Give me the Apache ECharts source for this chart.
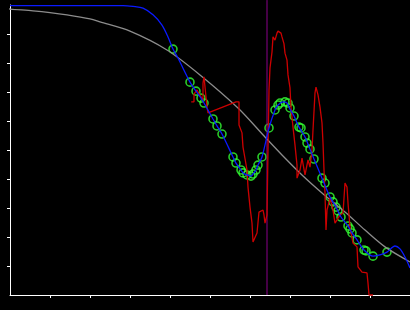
<!DOCTYPE html>
<html>
<head>
<meta charset="utf-8">
<script src="https://cdn.jsdelivr.net/npm/echarts@6.0.0/dist/echarts.min.js"></script>
<style>
  html, body { margin: 0; padding: 0; background: #000; }
  #chart { width: 410px; height: 310px; }
</style>
</head>
<body>
<div id="chart"></div>
<script>
// prior curve (grey)
var priorCurve = [
  [-0.25, 9.9], [0, 9.86], [0.575, 9.80], [1, 9.74], [1.425, 9.66], [2, 9.52],
  [2.25, 9.42], [3, 9.10], [3.925, 8.45], [4.75, 7.59], [5.7, 6.45], [6.375, 5.45],
  [6.8, 4.83], [7.3, 4.14], [7.8, 3.52], [8.375, 2.86], [8.875, 2.24], [9.375, 1.66],
  [10, 1.14]
]

// fitted curve (blue)
var fitCurve = [
  [0, 9.98], [2.825, 9.98], [3.075, 9.95], [3.325, 9.89], [3.575, 9.66], [3.8, 9.31],
  [3.95, 8.90], [4.075, 8.48], [4.2, 8.17], [4.5, 7.34], [4.65, 7.03], [4.775, 6.79],
  [4.85, 6.62], [5.075, 6.07], [5.175, 5.83], [5.3, 5.55], [5.575, 4.76], [5.65, 4.55],
  [5.775, 4.31], [5.825, 4.21], [5.925, 4.14], [6.025, 4.10], [6.075, 4.17], [6.15, 4.31],
  [6.2, 4.48], [6.3, 4.76], [6.475, 5.76], [6.625, 6.38], [6.7, 6.55], [6.825, 6.66],
  [6.925, 6.62], [7.0, 6.41], [7.1, 6.17], [7.225, 5.79], [7.375, 5.45], [7.5, 5.03],
  [7.6, 4.69], [7.8, 4.03], [8.0, 3.38], [8.15, 3.03], [8.275, 2.69], [8.45, 2.38],
  [8.55, 2.14], [8.675, 1.90], [8.85, 1.55], [9.075, 1.34], [9.25, 1.38], [9.425, 1.48],
  [9.625, 1.69], [9.75, 1.59], [9.875, 1.31], [10, 0.93]
]

// measured signal (red)
var signal = [
  [4.53, 6.66], [4.6, 6.66], [4.6, 6.93], [4.675, 7.07], [4.825, 6.72], [4.825, 7.31],
  [4.85, 7.52], [4.9, 7.52], [4.925, 6.48], [4.95, 6.28], [5.65, 6.66], [5.725, 6.66],
  [5.725, 5.86], [5.8, 5.59], [5.825, 5.10], [5.925, 4.31], [5.95, 3.72], [6.0, 3.03],
  [6.05, 2.48], [6.075, 1.83], [6.125, 1.79], [6.175, 2.14], [6.225, 2.86], [6.325, 2.93],
  [6.35, 2.76], [6.375, 2.48], [6.425, 2.76], [6.45, 5.00], [6.475, 7.07], [6.5, 7.83],
  [6.55, 8.38], [6.575, 8.90], [6.625, 8.79], [6.675, 9.03], [6.7, 9.10], [6.775, 9.03],
  [6.8, 8.90], [6.85, 8.66], [6.875, 8.34], [6.925, 8.10], [6.95, 7.59], [7.0, 7.14],
  [7.025, 6.45], [7.075, 5.79], [7.125, 5.17], [7.175, 4.48], [7.175, 4.03], [7.25, 4.31],
  [7.3, 4.72], [7.35, 4.72], [7.375, 4.14], [7.45, 4.66], [7.5, 4.41], [7.55, 5.00],
  [7.575, 5.69], [7.625, 6.97], [7.65, 7.17], [7.7, 6.90], [7.75, 6.48], [7.8, 5.93],
  [7.825, 5.24], [7.85, 4.31], [7.875, 3.52], [7.9, 2.24], [7.925, 2.93], [8.0, 3.34],
  [8.075, 2.93], [8.125, 2.48], [8.175, 2.59], [8.25, 2.76], [8.325, 2.83], [8.375, 3.86],
  [8.425, 3.72], [8.45, 3.17], [8.5, 2.34], [8.575, 1.79], [8.675, 1.66], [8.7, 0.97],
  [8.8, 0.79], [8.925, 0.76], [8.95, 0.41], [8.975, 0], [9.075, 0]
]

// sample points (green circles)
var samples = [
  [4.075, 8.48], [4.5, 7.34], [4.65, 7.03], [4.775, 6.79], [4.85, 6.62], [5.075, 6.07],
  [5.175, 5.83], [5.3, 5.55], [5.575, 4.76], [5.65, 4.55], [5.775, 4.31], [5.825, 4.21],
  [5.925, 4.14], [6.025, 4.10], [6.075, 4.17], [6.15, 4.31], [6.2, 4.48], [6.3, 4.76],
  [6.475, 5.76], [6.625, 6.38], [6.7, 6.55], [6.75, 6.62], [6.875, 6.66], [6.95, 6.62],
  [7.0, 6.45], [7.1, 6.17], [7.225, 5.79], [7.275, 5.76], [7.375, 5.45], [7.425, 5.24],
  [7.5, 5.03], [7.6, 4.69], [7.8, 4.03], [7.875, 3.86], [8.0, 3.38], [8.075, 3.21],
  [8.15, 3.03], [8.2, 2.90], [8.275, 2.69], [8.45, 2.38], [8.5, 2.28], [8.55, 2.14],
  [8.675, 1.90], [8.85, 1.55], [8.9, 1.52], [9.075, 1.34], [9.425, 1.48]
]

// vertical marker
var markerX = 6.425
var markerSpan = [0, 10.17]

var tickValues = [1, 2, 3, 4, 5, 6, 7, 8, 9]

var chart = echarts.init(document.getElementById('chart'))

chart.setOption({
  backgroundColor: '#000',
  animation: false,
  grid: { left: 10, right: 0, top: 5, bottom: 15 },
  xAxis: {
    type: 'value',
    min: 0,
    max: 10,
    splitLine: { show: false },
    axisLine: { show: true, lineStyle: { color: '#fff', width: 1 } },
    axisTick: { show: true, length: 3, customValues: tickValues, lineStyle: { color: '#fff', width: 1 } },
    axisLabel: { show: false }
  },
  yAxis: {
    type: 'value',
    min: 0,
    max: 10,
    splitLine: { show: false },
    axisLine: { show: true, lineStyle: { color: '#fff', width: 1 } },
    axisTick: { show: true, length: 3, customValues: tickValues, lineStyle: { color: '#fff', width: 1 } },
    axisLabel: { show: false }
  },
  series: [
    {
      type: 'line',
      clip: false,
      data: markerSpan.map(function (v) { return [markerX, v] }),
      showSymbol: false,
      lineStyle: { color: '#8a008a', width: 1 }
    },
    {
      type: 'line',
      clip: false,
      smooth: 0.3,
      data: priorCurve,
      showSymbol: false,
      lineStyle: { color: '#8c8c8c', width: 1.3 }
    },
    {
      type: 'line',
      clip: false,
      data: signal,
      showSymbol: false,
      lineStyle: { color: '#cc0000', width: 1.3 }
    },
    {
      type: 'line',
      smooth: 0.3,
      data: fitCurve,
      showSymbol: false,
      lineStyle: { color: '#0a1aff', width: 1.3 }
    },
    {
      type: 'scatter',
      data: samples,
      symbol: 'circle',
      symbolSize: 8,
      itemStyle: { color: 'rgba(0,0,0,0)', borderColor: '#33ff33', borderWidth: 1.6 }
    }
  ]
})
</script>
</body>
</html>
